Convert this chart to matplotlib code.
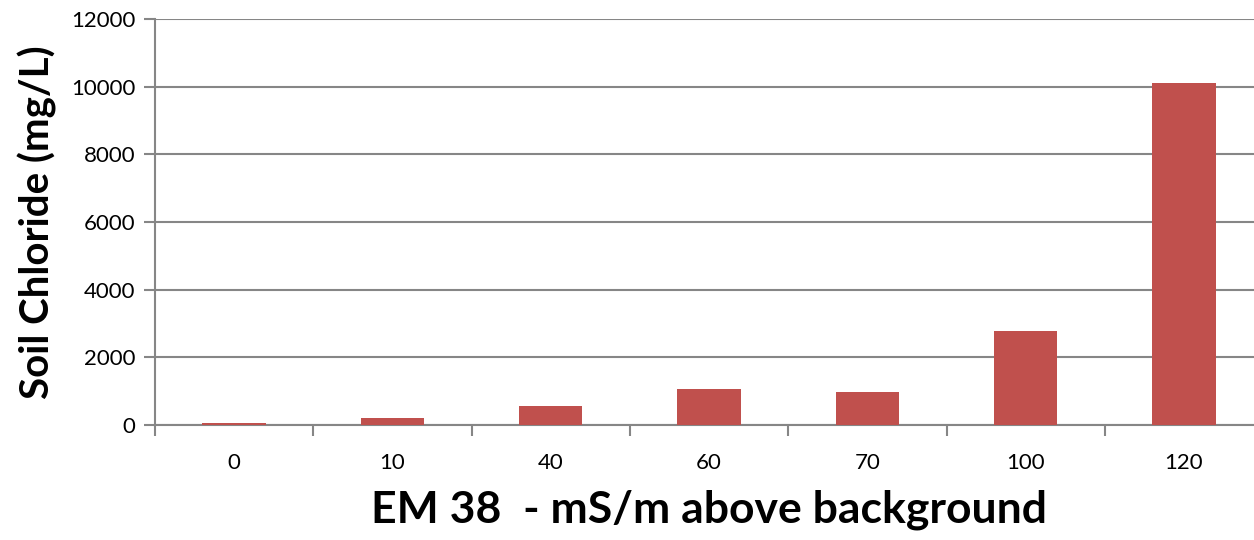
import numpy as np
import matplotlib.pyplot as plt

# EM38 readings vs soil chloride
em38_labels = ['0', '10', '40', '60', '70', '100', '120']
chloride_mg_l = [50, 215, 560, 1050, 965, 2775, 10100]

bar_color = '#C0504D'
grid_color = '#868686'

plt.rcParams['font.family'] = ['Lato', 'DejaVu Sans']

fig = plt.figure(figsize=(12.54, 5.4), dpi=100)
ax = fig.add_axes([155 / 1254, 115 / 540, 7 * 158.3 / 1254, 406 / 540])

x = np.arange(len(em38_labels))
ax.bar(x, chloride_mg_l, width=0.4, color=bar_color, zorder=3)

ax.set_xlim(-0.5, len(em38_labels) - 0.5)
ax.set_ylim(0, 12000)
ax.set_yticks(np.arange(0, 12001, 2000))
ax.yaxis.grid(True, color=grid_color, linewidth=1.5, zorder=0)

# category labels centred on bars, tick marks on the boundaries
ax.set_xticks(x)
ax.set_xticklabels(em38_labels)
ax.set_xticks(np.arange(-0.5, len(em38_labels) + 0.5, 1), minor=True)
ax.tick_params(axis='x', which='major', length=0, pad=20, labelsize=16)
ax.tick_params(axis='x', which='minor', length=8, width=1.5, color=grid_color)
ax.tick_params(axis='y', length=8, width=1.5, color=grid_color, labelsize=16, pad=6)

for side in ['top', 'right']:
    ax.spines[side].set_visible(False)
for side in ['left', 'bottom']:
    ax.spines[side].set_color(grid_color)
    ax.spines[side].set_linewidth(1.5)

ax.set_ylabel('Soil Chloride (mg/L)', fontsize=29, fontweight='bold', labelpad=10)
ax.set_xlabel('EM 38  - mS/m above background', fontsize=32, fontweight='bold', labelpad=12)

plt.savefig('out.png', dpi=100)
